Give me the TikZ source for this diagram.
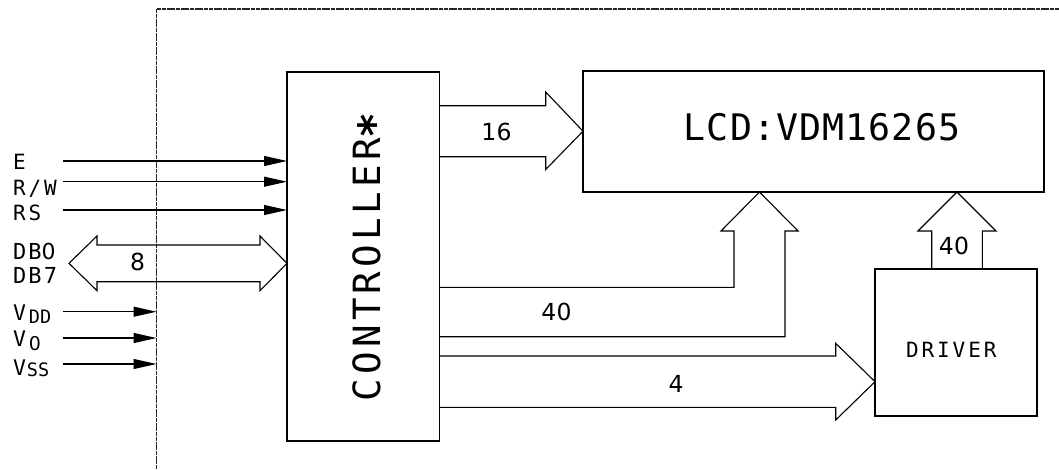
\documentclass[tikz,border=0pt]{standalone}
\usepackage{fontspec}
\usetikzlibrary{arrows.meta}
\newfontfamily\cad{DejaVu Sans Mono}
\newfontfamily\cadctl{DejaVu Sans Mono}[LetterSpace=11]
\newfontfamily\cadlcd{DejaVu Sans Mono}[LetterSpace=3]
\newfontfamily\cadsig{DejaVu Sans Mono}[LetterSpace=14]
\newfontfamily\caddb{DejaVu Sans Mono}[LetterSpace=10]
\newfontfamily\cadnum{DejaVu Sans}[LetterSpace=2]
\newfontfamily\cadzero{DejaVu Sans}
\newcommand{\setfs}[1]{\fontsize{#1}{#1}\selectfont}
\newcommand{\zr}{{\cadzero 0}}
\begin{document}
\begin{tikzpicture}[x=1pt,y=-1pt,
  box/.style={draw, line width=1.2pt, inner sep=0pt, outer sep=0pt},
  sig/.style={-{Triangle[length=23pt,width=10pt]}, line width=1.1pt},
  fat/.style={line width=1.1pt, line join=miter},
  frame/.style={line width=1.1pt, black!85, dash pattern=on 4pt off 0.7pt},
  txt/.style={inner sep=0pt, outer sep=0pt},
  sigtxt/.style={txt, anchor=base west, font={\cadsig\setfs{21}}},
  dbtxt/.style={txt, anchor=base west, font={\caddb\setfs{22}}},
  numtxt/.style={txt, anchor=center, font={\cadnum\setfs{23.5}}},
  vtxt/.style={txt, anchor=base west, font={\cad\setfs{21.5}}}
]
\useasboundingbox (0,0) rectangle (1059,469);

% outer frame
\coordinate (fbot) at (156.5,469);
\coordinate (fcor) at (156.5,9);
\coordinate (fright) at (1059,9);
\draw[frame] (fbot) -- (fcor) -- (fright);

% boxes
\node[box, minimum width=152.5pt, minimum height=369pt] (ctrl) at (363.25,256.5) {};
\node[box, minimum width=461pt, minimum height=121pt] (lcd) at (813.5,131.5) {};
\node[box, minimum width=162pt, minimum height=147pt] (drv) at (956,342.5) {};
\draw[line width=2.2pt] (335,71.6) -- (343,71.6);

% box texts
\node[txt, rotate=90, anchor=base west, font={\cadctl\setfs{37.5}}] (ctltxt) at (380,401) {CONTROLLER\raisebox{-0.26em}{\scalebox{1.15}{\bfseries *}}};
\node[txt, anchor=center, font={\cadlcd\setfs{36.6}}] (lcdtxt) at (822,126.7) {LCD:VDM16265};
\node[txt, anchor=base west, font={\cadsig\setfs{21}}] (drvtxt) at (906,357.3) {DRIVER};

% input signals
\node[sigtxt] (lE) at (13,169) {E};
\node[sigtxt] (lRW) at (13,195) {R/W};
\node[sigtxt] (lRS) at (13,220) {RS};
\coordinate (sE) at (63,161);
\coordinate (sRW) at (63,181.7);
\coordinate (sRS) at (63,210);
\draw[sig] (sE) -- (sE -| ctrl.west);
\draw[sig] (sRW) -- (sRW -| ctrl.west);
\draw[sig] (sRS) -- (sRS -| ctrl.west);

% data bus
\node[dbtxt] (lDB0) at (13,259.3) {DB\zr};
\node[dbtxt] (lDB7) at (13,283.3) {DB7};
\draw[fat] (69,263.3) -- (97,236) -- (97,245) -- (260,245) -- (260,236)
  -- (ctrl.west |- 0,263.3) -- (260,290.7) -- (260,281.7) -- (97,281.7)
  -- (97,290.7) -- cycle;
\node[numtxt] (n8) at (137.5,262.3) {8};

% power
\node[vtxt] (lVDD) at (13,320) {V\hspace{3pt}\raisebox{-3.3pt}{\setfs{18.5}DD}};
\node[vtxt] (lV0) at (13,346.7) {V\hspace{3pt}\raisebox{-3.3pt}{\setfs{19}\zr}};
\node[vtxt] (lVSS) at (13,375) {V\hspace{1pt}\raisebox{-1pt}{\setfs{18.5}SS}};
\coordinate (sVDD) at (63,311.7);
\coordinate (sV0) at (63,338);
\coordinate (sVSS) at (63,364);
\draw[sig] (sVDD) -- (sVDD -| fbot);
\draw[sig] (sV0) -- (sV0 -| fbot);
\draw[sig] (sVSS) -- (sVSS -| fbot);

% 16 bus to LCD
\draw[fat] (ctrl.east |- 0,105.7) -- (545.7,105.7) -- (545.7,92)
  -- (lcd.west |- 0,131.2) -- (545.7,169.5) -- (545.7,156.7) -- (ctrl.east |- 0,156.7);
\node[numtxt] (n16) at (496.5,132) {16};

% 40 bus to LCD
\draw[fat] (ctrl.east |- 0,287.3) -- (734,287.3) -- (734,231) -- (721,231)
  -- (759.5,192) -- (798,231) -- (785,231) -- (785,336.7) -- (ctrl.east |- 0,336.7);
\node[numtxt] (n40a) at (556.5,312) {40};

% 4 bus to driver
\draw[fat] (ctrl.east |- 0,356) -- (835.7,356) -- (835.7,343.3)
  -- (drv.west |- 0,381.7) -- (835.7,420) -- (835.7,407.3) -- (ctrl.east |- 0,407.3);
\node[numtxt] (n4) at (676,384) {4};

% 40 bus driver to LCD
\draw[fat] (931.7,0 |- drv.north) -- (931.7,231) -- (918,231) -- (957,0 |- lcd.south)
  -- (996,231) -- (982.3,231) -- (982.3,0 |- drv.north);
\node[numtxt] (n40b) at (954,246) {40};
\end{tikzpicture}
\end{document}
